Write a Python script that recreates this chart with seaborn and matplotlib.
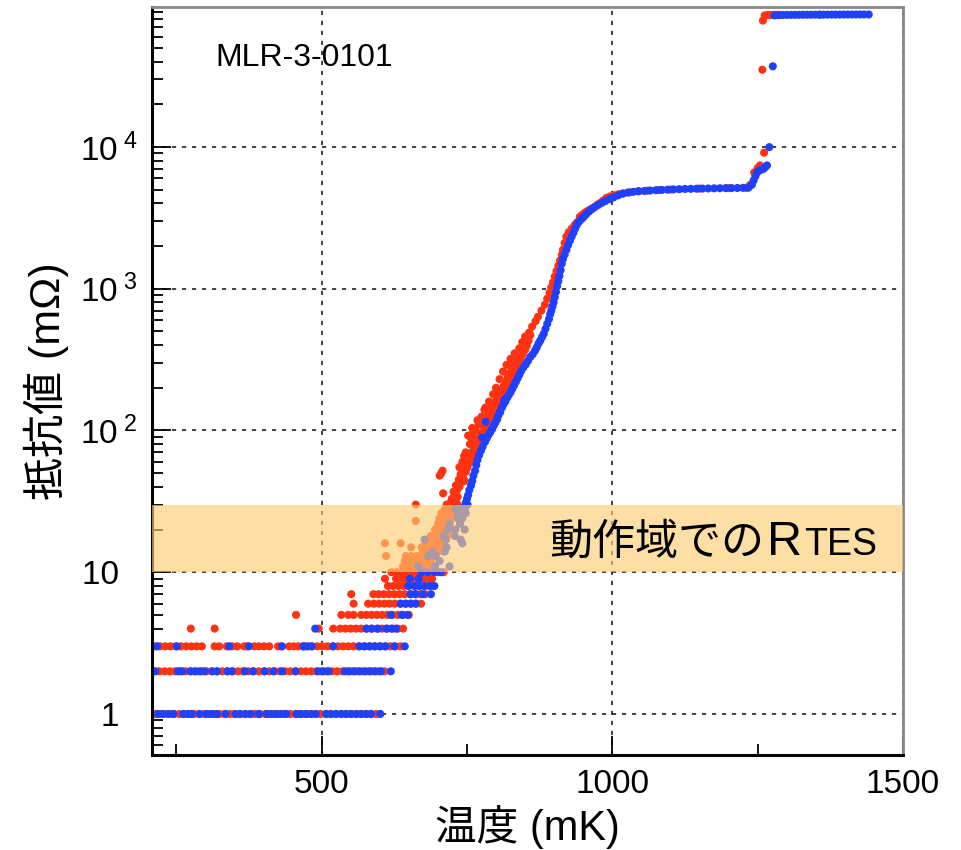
import matplotlib
matplotlib.use("Agg")
import matplotlib.pyplot as plt
import seaborn as sns
import pandas as pd
from matplotlib.ticker import LogLocator, NullFormatter

# ---------------- data: temperature (mK) vs resistance (mOhm) ----------------
# Quantised low-resistance readings: temperatures recorded at each integer level.
red_r1 = [212, 220, 229, 238, 246, 255, 263, 272, 281, 290, 298, 307, 316, 324, 333, 342, 350, 359,
          368, 376, 385, 394, 403, 411, 420, 429, 437, 446, 455, 463, 472, 481, 490, 498, 507, 516,
          524, 533, 542, 550, 559, 568, 576, 585, 594]
blue_r1 = [218, 226, 236, 245, 262, 270, 276, 290, 302, 311, 320, 335, 352, 360, 369, 378, 392, 406,
           414, 423, 431, 439, 457, 465, 474, 482, 490, 508, 516, 525, 534, 542, 551, 560, 568, 577,
           585, 601]
red_r2 = [212, 221, 230, 239, 248, 257, 266, 275, 284, 293, 302, 311, 320, 329, 338, 347, 356, 365,
          374, 383, 392, 401, 410, 419, 428, 437, 446, 455, 464, 473, 482, 491, 500, 509, 518, 527,
          536, 545, 554, 563, 572, 581, 590, 599, 608]
blue_r2 = [214, 253, 260, 274, 282, 290, 298, 312, 320, 338, 346, 368, 382, 402, 417, 432, 455, 494,
           503, 512, 540, 548, 557, 566, 575, 584, 593, 602, 619]
red_r3 = [213, 222, 231, 240, 249, 258, 267, 276, 285, 294, 316, 324, 337, 346, 355, 367, 372, 384,
          392, 401, 410, 425, 430, 444, 452, 460, 468, 473, 483, 492, 501, 510, 519, 528, 537, 546,
          555, 564, 573, 582, 591, 600, 609, 618, 627, 636]
blue_r3 = [217, 251, 341, 375, 432, 469, 477, 483, 520, 565, 574, 583, 592, 601, 610, 625, 643]
red_r4 = [275, 316, 495, 520, 532, 541, 550, 559, 568, 577, 586, 595, 604, 613, 622, 631, 640]
blue_r4 = [489, 577, 586, 597, 611, 620, 628]
red_r5 = [456, 534, 546, 555, 568, 577, 586, 595, 604, 613, 622, 631, 640, 650]
blue_r5 = [619, 638, 648]
red_r6 = [555, 580, 590, 599, 608, 617, 626, 635, 644, 653, 662, 671]
blue_r6 = [636, 645, 654, 662]
red_r7 = [551, 589, 598, 607, 616, 625, 634, 643, 652, 661, 670, 678]
blue_r7 = [653, 662, 674, 688]
red_r8 = [614, 623, 632, 641, 650, 659, 668, 677, 686, 692]
blue_r8 = [649, 660, 668, 677, 686, 694]
red_r9 = [609, 628, 637, 646, 655, 664, 673, 682, 690]
blue_r9 = [652, 667]
red_r10 = [620, 629, 638, 647, 656, 665, 674, 683, 692, 701, 710]
blue_r10 = [672, 682, 694, 705]
red_r11 = [640, 649, 658, 667, 676, 685, 694]
blue_r11 = [666, 695, 720]
red_r12 = [643, 652, 661, 670, 679, 688]
blue_r12 = [703]
red_r13 = [611, 645, 654, 663, 672, 681, 688]
blue_r13 = [683, 696]
red_r14 = [674, 683, 692, 701, 710]
blue_r14 = [691, 712]
red_r15 = [654, 672, 681, 690, 699, 707]
blue_r15 = [715]
red_r16 = [609, 636, 680, 689, 698, 710]
blue_r16 = [742]
red_r17 = [683, 692, 701, 714]
blue_r17 = [677, 713, 739]
red_r18 = [688, 697, 706, 716]
blue_r18 = [710, 729]
red_r20 = [695, 704, 713, 722]
blue_r20 = [717, 730, 746]
red_r22 = [700, 710, 720]
blue_r22 = [720, 738]
red_r23 = [662]
red_r24 = [703, 713, 724]
blue_r24 = [734, 742]
red_r26 = [706, 716, 727]
blue_r26 = [735, 748]
red_r28 = [712, 722, 731]
blue_r28 = [730, 740, 746]
red_r30 = [662, 715, 725, 734]
blue_r30 = [751]

# Continuous part of the transition and the normal-state plateaus.
red_curve_T = [718, 722, 726, 730, 724, 729, 734, 727, 733, 737, 731, 740, 736, 743, 746, 739, 748, 744,
               703, 706, 708, 709, 751, 747, 754, 758, 750,
               760, 756, 763, 766, 761, 770, 766, 773, 769, 777, 760, 759, 775, 780, 783, 778, 786, 782,
               790, 786, 793, 789, 797, 782, 794, 800,
               797, 804, 801, 808, 805, 812, 809, 816, 813, 820, 817, 823, 820, 827, 824, 830, 827, 834,
               831, 838, 835, 842, 839, 846, 843, 850, 848, 853, 851, 856, 854, 859, 857,
               742, 748, 755, 752, 765, 770, 775, 780, 788, 795, 800, 806, 812, 818, 825, 832, 840, 845,
               850, 737, 745, 758, 768,
               862, 868, 872, 878, 884, 888, 892, 895, 898, 901, 904, 907, 910, 913, 915, 918, 921, 925,
               930, 935, 939, 944, 948, 953, 957, 961, 966, 970, 974, 978, 984, 990, 996, 1003, 1011,
               1019, 1030, 1045, 1060, 1080, 1100, 1150, 1200, 1230, 1237, 1244, 1250, 1254, 1261, 1258,
               1259, 1262, 1266, 1270, 1274, 1278, 1282, 1286, 1357]
red_curve_R = [30, 31, 30, 32, 33, 35, 34, 37, 38, 40, 41, 43, 45, 47, 44, 49, 51, 53,
               48, 50, 52, 36, 55, 57, 59, 62, 63,
               66, 69, 70, 73, 76, 78, 81, 84, 88, 91, 95, 104, 96, 99, 104, 108, 112, 117,
               120, 126, 130, 135, 140, 145, 146, 150,
               156, 160, 167, 172, 180, 185, 192, 198, 205, 212, 220, 228, 236, 245, 254, 262, 270, 280,
               290, 300, 312, 320, 332, 345, 357, 370, 383, 395, 410, 430, 450, 470, 490,
               60, 70, 80, 92, 100, 110, 125, 140, 160, 180, 200, 230, 260, 290, 320, 350, 380, 420,
               460, 55, 66, 88, 118,
               540, 590, 633, 700, 770, 850, 935, 1020, 1110, 1220, 1330, 1450, 1580, 1730, 1880, 2100,
               2330, 2500, 2650, 2800, 2930, 3210, 3320, 3440, 3520, 3600, 3700, 3780, 3900, 4000, 4180,
               4370, 4470, 4560, 4640, 4700, 4780, 4870, 4910, 4960, 5000, 5080, 5120, 5150, 5400, 6600,
               7100, 7400, 9100, 35000, 77700, 84500, 85000, 85000, 85200, 85300, 85300, 85400, 85600]

blue_curve_T = [746, 748, 750, 752, 754, 757, 759, 761, 764, 766, 768, 771, 774, 777, 781, 784, 787, 790,
                793, 796, 799, 802, 804, 807, 810, 813, 816, 819, 822, 825, 828, 831, 834, 837, 840, 843,
                847, 851, 855, 859, 863, 867, 870, 873, 876, 879, 882, 885, 888, 891, 893, 895, 897, 899,
                901, 903, 905, 907, 909, 911, 913, 915, 918, 921, 924, 927, 930, 933, 936, 939, 943, 947,
                951, 955, 960, 965, 970, 976, 982, 988, 995, 1002, 1010, 1018, 1027, 1036, 1045, 1055,
                1065, 1075, 1085, 1095, 1105, 1115, 1125, 1135, 1145, 1155, 1165, 1175, 1185, 1195, 1205,
                1215, 1225, 1234, 1240, 1243, 1246, 1249, 1252, 1256, 1260, 1263, 1266, 1270, 1276,
                1279, 1286, 1293, 1300, 1307, 1314, 1321, 1328, 1335, 1342, 1349, 1356, 1363, 1370, 1377,
                1384, 1391, 1398, 1405, 1412, 1419, 1426, 1433, 1441,
                776, 782, 814, 807]
blue_curve_R = [29, 31, 33, 35, 38, 41, 44, 48, 52, 57, 62, 67, 72, 77, 83, 88, 93, 97,
                102, 108, 114, 120, 128, 135, 145, 153, 160, 170, 178, 186, 197, 208, 220, 233, 247, 262,
                278, 292, 310, 330, 345, 365, 385, 410, 430, 455, 480, 520, 565, 610, 660, 700, 750, 800,
                870, 950, 1040, 1130, 1230, 1350, 1500, 1620, 1740, 1880, 2030, 2180, 2330, 2480, 2650,
                2820, 2980, 3100, 3210, 3350, 3500, 3640, 3770, 3900, 4030, 4150, 4280, 4400, 4550, 4680,
                4760, 4820, 4860, 4890, 4920, 4950, 4970, 4990, 5010, 5030, 5050, 5060, 5070, 5080, 5090,
                5100, 5110, 5120, 5120, 5130, 5140, 5150, 5400, 5800, 6200, 6600, 6800, 6900, 7000, 7200,
                7400, 9960, 37000,
                84600, 85000, 85200, 85300, 85300, 85400, 85400, 85500, 85500, 85500, 85600, 85600, 85600,
                85700, 85700, 85700, 85700, 85800, 85800, 85800, 85800, 85900, 85900, 85900,
                89, 115, 164, 135]

band_low, band_high = 10, 30
sample_name = "MLR-3-0101"
band_label = "動作域での"
band_label_R = "R"
band_label_sub = "TES"

red_rows = [(1, red_r1), (2, red_r2), (3, red_r3), (4, red_r4), (5, red_r5), (6, red_r6), (7, red_r7),
            (8, red_r8), (9, red_r9), (10, red_r10), (11, red_r11), (12, red_r12), (13, red_r13),
            (14, red_r14), (15, red_r15), (16, red_r16), (17, red_r17), (18, red_r18), (20, red_r20),
            (22, red_r22), (23, red_r23), (24, red_r24), (26, red_r26), (28, red_r28), (30, red_r30)]
blue_rows = [(1, blue_r1), (2, blue_r2), (3, blue_r3), (4, blue_r4), (5, blue_r5), (6, blue_r6),
             (7, blue_r7), (8, blue_r8), (9, blue_r9), (10, blue_r10), (11, blue_r11), (12, blue_r12),
             (13, blue_r13), (14, blue_r14), (15, blue_r15), (16, blue_r16), (17, blue_r17),
             (18, blue_r18), (20, blue_r20), (22, blue_r22), (24, blue_r24), (26, blue_r26),
             (28, blue_r28), (30, blue_r30)]

# ---------------- assemble long-form table ----------------
records = []
for level, temps in red_rows:
    records += [(t, level, "red") for t in temps]
records += [(t, r, "red") for t, r in zip(red_curve_T, red_curve_R)]
for level, temps in blue_rows:
    records += [(t, level, "blue") for t in temps]
records += [(t, r, "blue") for t, r in zip(blue_curve_T, blue_curve_R)]
df = pd.DataFrame(records, columns=["T", "R", "run"])

# ---------------- style ----------------
sns.set_theme(style="white")
plt.rcParams["font.family"] = ["Liberation Sans", "Noto Sans CJK JP"]
plt.rcParams["mathtext.fontset"] = "custom"
plt.rcParams["mathtext.rm"] = "Liberation Sans"
plt.rcParams["mathtext.it"] = "Liberation Sans:italic"
plt.rcParams["mathtext.bf"] = "Liberation Sans:bold"
plt.rcParams["text.color"] = "black"
plt.rcParams["axes.labelcolor"] = "black"
plt.rcParams["xtick.color"] = "black"
plt.rcParams["ytick.color"] = "black"

fig = plt.figure(figsize=(9.61, 8.5), dpi=100)
ax = fig.add_axes([0.158, 0.1118, 0.7817, 0.880])

sns.scatterplot(data=df, x="T", y="R", hue="run", palette={"red": "#ff3312", "blue": "#1f40ff"},
                s=34, linewidth=0, legend=False, ax=ax, zorder=2)

ax.axhspan(band_low, band_high, color=(252 / 255, 206 / 255, 114 / 255), alpha=0.64, lw=0, zorder=3)

ax.set_yscale("log")
ax.set_xlim(208, 1500)
ax.set_ylim(0.514, 97000)

ax.set_xticks([500, 1000, 1500])
ax.set_xticks([250, 750, 1250], minor=True)
ax.set_yticks([1, 10, 100, 1000, 10000])
ax.set_yticklabels(["1  ", "10  ", "10$^{\\ 2}$", "10$^{\\ 3}$", "10$^{\\ 4}$"])
ax.yaxis.set_minor_locator(LogLocator(base=10, subs=range(2, 10), numticks=20))
ax.yaxis.set_minor_formatter(NullFormatter())

ax.tick_params(axis="both", which="both", direction="in", top=False, right=False,
               left=True, bottom=True, labelsize=24)
ax.tick_params(axis="both", which="major", length=14, width=1.3, pad=10)
ax.tick_params(axis="both", which="minor", length=8, width=1.3)

ax.grid(True, which="major", linestyle=(0, (2.5, 3.5)), color="#222222", linewidth=1.2)
ax.set_axisbelow(True)

for side in ("left", "bottom"):
    ax.spines[side].set_color("black")
    ax.spines[side].set_linewidth(2.2)
for side in ("top", "right"):
    ax.spines[side].set_color("#888888")
    ax.spines[side].set_linewidth(2)

ax.set_xlabel("温度 (mK)", fontsize=30, labelpad=4)
ax.set_ylabel("抵抗値 (mΩ)", fontsize=31, labelpad=8)

ax.text(0.084, 0.932, sample_name, transform=ax.transAxes, fontsize=23, va="center", ha="left")

# band annotation: CJK text, then R with a smaller TES suffix on the same baseline
main = ax.text(892, 13.2, band_label, fontsize=31, va="baseline", ha="left",
               family=["Noto Sans CJK JP"], zorder=4)
r_txt = ax.annotate(band_label_R, xy=(1, 13.2), xycoords=(main, "data"), xytext=(2, 0),
                    textcoords="offset points", fontsize=35, va="baseline", ha="left",
                    family=["Liberation Sans"], zorder=4)
ax.annotate(band_label_sub, xy=(1, 13.2), xycoords=(r_txt, "data"), xytext=(1, 0),
            textcoords="offset points", fontsize=27, va="baseline", ha="left",
            family=["Liberation Sans"], zorder=4)

fig.savefig("out.png", dpi=100)
